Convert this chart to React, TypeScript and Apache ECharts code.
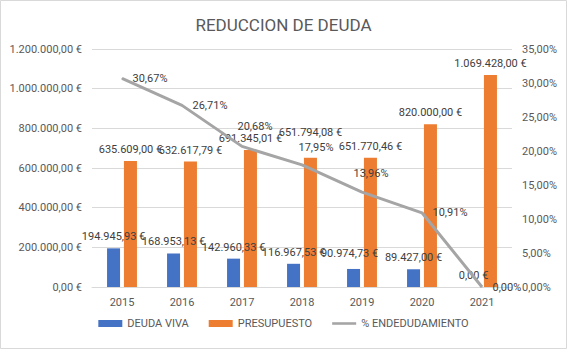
import React, { useEffect, useRef } from "react";
import * as echarts from "echarts";

const years = ["2015", "2016", "2017", "2018", "2019", "2020", "2021"];
const deudaViva = [194945.93, 168953.13, 142960.33, 116967.53, 90974.73, 89427.0, 0];
const presupuesto = [635609.0, 632617.79, 691345.01, 651794.08, 651770.46, 820000.0, 1069428.0];
const endeudamiento = [30.67, 26.71, 20.68, 17.95, 13.96, 10.91, 0.0];

const lineLabelOffsets: Record<number, [number, number]> = {
  2: [-15, -20],
  3: [-14, -17],
  4: [-19, -19],
};
const deudaLabelOffsets: Record<number, [number, number]> = {
  4: [-4, -4],
};
const presLabelOffsets: Record<number, [number, number]> = {
  3: [0, -14],
};

const FONT = "Roboto";
const TXT = "#595959";
const LBL = "#404040";

function fmtEs(n: number, dec: number) {
  const s = Math.abs(n).toFixed(dec);
  const [ip, dp] = s.split(".");
  const withDots = ip.replace(/\B(?=(\d{3})+(?!\d))/g, ".");
  return (n < 0 ? "-" : "") + withDots + (dp !== undefined ? "," + dp : "");
}
const euro = (n: number) => fmtEs(n, 2) + " €";
const pct = (n: number) => fmtEs(n, 2) + "%";

export default function App() {
  const ref = useRef<HTMLDivElement>(null);
  useEffect(() => {
    if (!ref.current) return;
    const chart = echarts.init(ref.current, undefined, { renderer: "svg" });
    const labelBase = { show: true, fontFamily: FONT, fontSize: 11, color: LBL };
    chart.setOption({
      animation: false,
      backgroundColor: "#ffffff",
      textStyle: { fontFamily: FONT },
      graphic: [
        {
          type: "rect",
          shape: { x: 0.5, y: 0.5, width: 566, height: 348 },
          style: { fill: "none", stroke: "#d9d9d9", lineWidth: 1 },
          silent: true,
          z: -1,
        },
      ],
      title: {
        text: "REDUCCION DE DEUDA",
        left: "center",
        top: 11,
        textStyle: { fontFamily: FONT, fontSize: 17, fontWeight: "normal", color: TXT },
      },
      legend: {
        bottom: 15,
        left: "center",
        itemWidth: 24,
        itemHeight: 7,
        itemGap: 20,
        textStyle: { fontFamily: FONT, fontSize: 11, color: TXT },
        data: [
          { name: "DEUDA VIVA", icon: "rect" },
          { name: "PRESUPUESTO", icon: "rect" },
          { name: "% ENDEDUDAMIENTO", icon: "path://M0,0 H28 V3 H0 Z" },
        ],
      },
      grid: { left: 92, right: 55, top: 49, bottom: 62, containLabel: false },
      xAxis: {
        type: "category",
        data: years,
        axisLine: { lineStyle: { color: "#d9d9d9" } },
        axisTick: { show: false },
        axisLabel: { fontFamily: FONT, fontSize: 11, color: TXT, margin: 10 },
      },
      yAxis: [
        {
          type: "value",
          min: 0,
          max: 1200000,
          interval: 200000,
          axisLine: { show: false },
          axisTick: { show: false },
          splitLine: { lineStyle: { color: "#d9d9d9" } },
          axisLabel: { fontFamily: FONT, fontSize: 11, color: TXT, margin: 10, formatter: (v: number) => euro(v) },
        },
        {
          type: "value",
          min: 0,
          max: 35,
          interval: 5,
          axisLine: { show: false },
          axisTick: { show: false },
          splitLine: { show: false },
          axisLabel: { fontFamily: FONT, fontSize: 11, color: TXT, margin: 10, formatter: (v: number) => pct(v) },
        },
      ],
      series: [
        {
          name: "DEUDA VIVA",
          type: "bar",
          barWidth: 13,
          barGap: "30%",
          itemStyle: { color: "#4472c4" },
          label: { ...labelBase, position: "top", distance: 6, formatter: (p: any) => euro(p.value) },
          data: deudaViva.map((v, i) =>
            deudaLabelOffsets[i] ? { value: v, label: { offset: deudaLabelOffsets[i] } } : v
          ),
        },
        {
          name: "PRESUPUESTO",
          type: "bar",
          barWidth: 13,
          barGap: "30%",
          itemStyle: { color: "#ed7d31" },
          label: { ...labelBase, position: "top", distance: 6, formatter: (p: any) => euro(p.value) },
          data: presupuesto.map((v, i) =>
            presLabelOffsets[i] ? { value: v, label: { offset: presLabelOffsets[i] } } : v
          ),
        },
        {
          name: "% ENDEDUDAMIENTO",
          type: "line",
          yAxisIndex: 1,
          symbol: "circle",
          symbolSize: 1,
          showSymbol: true,
          lineStyle: { color: "#a5a5a5", width: 3 },
          itemStyle: { color: "#a5a5a5" },
          label: { ...labelBase, position: "right", distance: 10, formatter: (p: any) => pct(p.value) },
          data: endeudamiento.map((v, i) =>
            lineLabelOffsets[i] ? { value: v, label: { offset: lineLabelOffsets[i] } } : v
          ),
          z: 3,
        },
      ],
    });
    return () => chart.dispose();
  }, []);
  return (
    <div
      ref={ref}
      style={{ position: "absolute", left: 0, top: 0, width: 567, height: 349 }}
    />
  );
}
